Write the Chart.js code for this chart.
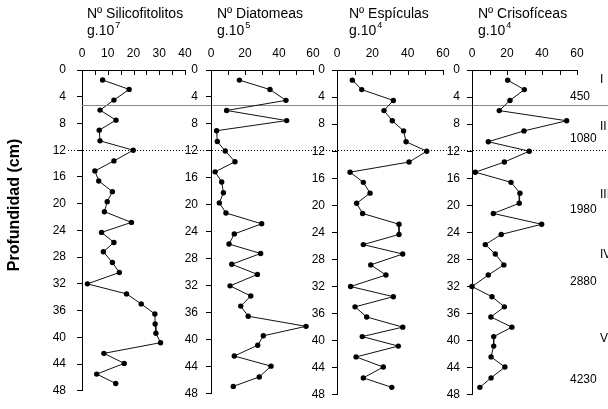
<!DOCTYPE html>
<html>
<head>
<meta charset="utf-8">
<script src="https://cdn.jsdelivr.net/npm/chart.js@4"></script>
<style>
  body { margin: 0; background: #fff; }
  #wrap { position: relative; width: 608px; height: 409px; overflow: hidden; }
  #wrap canvas { position: absolute; left: 0; top: 0; }
</style>
</head>
<body>
<div id="wrap">
  <canvas id="c1" width="608" height="409"></canvas>
  <canvas id="c2" width="608" height="409"></canvas>
  <canvas id="c3" width="608" height="409"></canvas>
  <canvas id="c4" width="608" height="409"></canvas>
</div>
<script>
// sample depths (cm), shared by all four profiles
const depths = [1.5, 2.9, 4.5, 6.0, 7.5, 9.0, 10.6, 12.0, 13.6, 15.1, 16.6, 18.2, 19.7, 21.2, 22.8, 24.3,
                25.8, 27.2, 28.8, 30.3, 32.0, 33.5, 35.0, 36.5, 38.0, 39.4, 40.8, 42.4, 43.9, 45.5, 46.9];

// counts
const silicofitolitos = [8.0, 18.3, 12.4, 7.0, 13.2, 6.7, 7.0, 19.9, 12.4, 5.0, 6.5, 11.8, 9.8, 8.7, 19.2, 7.6,
                         12.4, 8.3, 11.8, 14.5, 2.1, 17.3, 23.0, 28.3, 28.4, 28.7, 30.5, 8.5, 16.4, 5.7, 13.1];
const diatomeas = [16.7, 34.7, 44.1, 9.2, 44.5, 3.3, 3.7, 8.4, 14.1, 2.4, 6.3, 7.3, 4.9, 8.8, 29.8, 13.7,
                   10.6, 29.2, 12.2, 27.3, 11.2, 23.4, 17.5, 21.9, 55.9, 30.8, 27.5, 13.7, 35.3, 28.4, 13.1];
const espiculas = [8.7, 14.0, 31.9, 26.6, 31.3, 37.7, 39.1, 50.8, 40.8, 7.4, 14.9, 18.7, 11.1, 14.5, 35.1, 35.1,
                   14.9, 37.2, 19.1, 27.7, 7.7, 31.9, 10.2, 16.8, 37.2, 14.3, 34.7, 10.8, 26.2, 14.9, 31.0];
const crisoficeas = [20.4, 29.9, 21.7, 15.6, 54.1, 29.7, 9.3, 32.7, 18.5, 1.9, 22.3, 27.4, 27.0, 12.2, 39.8, 16.7,
                     7.6, 13.3, 18.2, 9.3, 0.0, 11.4, 18.5, 10.8, 22.8, 12.4, 12.4, 10.9, 18.8, 10.9, 4.5];

// zones and ages on the right
const zoneNames = ['I', 'II', 'III', 'IV', 'V'];
const zoneNameDepths = [1.5, 8.4, 18.5, 27.3, 39.7];
const zoneAges = ['450', '1080', '1980', '2880', '4230'];
const zoneAgeDepths = [3.9, 10.2, 20.6, 31.3, 45.8];
const solidBoundary = 5.2;
const dottedBoundary = 12;

const FONT = '"Liberation Sans", Arial, Helvetica, sans-serif';

const panels = [
    { id: 'c1', title: 'Nº Silicofitolitos', exp: '7', values: silicofitolitos, xMax: 40, labelStep: 10, minorStep: 5, left: 82, right: 185, titleDx: 5, yPad: 11 },
    { id: 'c2', title: 'Nº Diatomeas', exp: '5', values: diatomeas, xMax: 60, labelStep: 20, minorStep: 10, left: 211, right: 313, titleDx: 6, yPad: 8 },
    { id: 'c3', title: 'Nº Espículas', exp: '4', values: espiculas, xMax: 60, labelStep: 20, minorStep: 10, left: 337, right: 443, titleDx: 12, yPad: 7 },
    { id: 'c4', title: 'Nº Crisofíceas', exp: '4', values: crisoficeas, xMax: 60, labelStep: 20, minorStep: 10, left: 472, right: 577, titleDx: 6, yPad: 7 }
];

// draws inner x ticks, titles and the extra decorations
const panelDecor = {
    id: 'panelDecor',
    afterDraw(chart, args, opts) {
        const { ctx, chartArea, scales } = chart;
        const x = scales.x, y = scales.y;
        ctx.save();
        ctx.strokeStyle = '#000';
        ctx.lineWidth = 1;
        for (let v = 0; v <= opts.xMax; v += opts.minorStep) {
            const px = Math.round(x.getPixelForValue(v)) + 0.5;
            ctx.beginPath();
            ctx.moveTo(px, chartArea.top);
            ctx.lineTo(px, chartArea.top + 5);
            ctx.stroke();
        }

        ctx.fillStyle = '#000';
        ctx.textAlign = 'left';
        ctx.textBaseline = 'alphabetic';
        const tx = chartArea.left + opts.titleDx;
        ctx.font = '14px ' + FONT;
        ctx.fillText(opts.title, tx, 18);
        ctx.fillText('g.10', tx, 35);
        const w = ctx.measureText('g.10').width;
        ctx.font = '9px ' + FONT;
        ctx.fillText(opts.exp, tx + w + 1, 28);

        if (opts.boundaries) {
            const ys = Math.round(y.getPixelForValue(solidBoundary)) + 0.5;
            ctx.strokeStyle = '#888';
            ctx.beginPath();
            ctx.moveTo(chartArea.left, ys);
            ctx.lineTo(chart.width, ys);
            ctx.stroke();
            const yd = Math.round(y.getPixelForValue(dottedBoundary)) + 0.5;
            ctx.strokeStyle = '#000';
            ctx.setLineDash([1, 2]);
            ctx.beginPath();
            ctx.moveTo(chartArea.left - 14, yd);
            ctx.lineTo(chart.width, yd);
            ctx.stroke();
            ctx.setLineDash([]);

            ctx.save();
            ctx.translate(15, 205);
            ctx.rotate(-Math.PI / 2);
            ctx.textAlign = 'center';
            ctx.textBaseline = 'middle';
            ctx.font = 'bold 16px ' + FONT;
            ctx.fillText('Profundidad (cm)', 0, 0);
            ctx.restore();
        }

        if (opts.zones) {
            ctx.font = '12px ' + FONT;
            ctx.textBaseline = 'middle';
            ctx.textAlign = 'left';
            zoneNames.forEach((n, i) => ctx.fillText(n, 600, y.getPixelForValue(zoneNameDepths[i])));
            zoneAges.forEach((a, i) => ctx.fillText(a, 570, y.getPixelForValue(zoneAgeDepths[i])));
        }
        ctx.restore();
    }
};

panels.forEach((p, idx) => {
    const ctx = document.getElementById(p.id).getContext('2d');
    new Chart(ctx, {
        type: 'scatter',
        data: {
            datasets: [{
                data: p.values.map((v, i) => ({ x: v, y: depths[i] })),
                showLine: true,
                borderColor: '#111',
                borderWidth: 1,
                backgroundColor: '#000',
                pointRadius: 2.7,
                pointBorderWidth: 0,
                clip: false
            }]
        },
        options: {
            responsive: false,
            animation: false,
            events: [],
            layout: { padding: { left: p.left - 30, right: 608 - p.right, top: 40, bottom: 9 } },
            plugins: {
                legend: { display: false },
                tooltip: { enabled: false },
                panelDecor: {
                    title: p.title, exp: p.exp, xMax: p.xMax, minorStep: p.minorStep, titleDx: p.titleDx,
                    boundaries: idx === 0, zones: idx === 3
                }
            },
            scales: {
                x: {
                    type: 'linear',
                    position: 'top',
                    min: 0,
                    max: p.xMax,
                    afterFit: s => { s.height = 30; },
                    grid: { display: false, drawTicks: false },
                    border: { display: true, color: '#000', width: 1 },
                    ticks: { stepSize: p.labelStep, padding: 9, color: '#000', font: { family: FONT, size: 12 }, maxRotation: 0 }
                },
                y: {
                    type: 'linear',
                    position: 'left',
                    reverse: true,
                    min: 0,
                    max: 48,
                    afterFit: s => { s.width = 30; },
                    grid: { drawOnChartArea: false, drawTicks: true, tickLength: 5, color: '#000' },
                    border: { display: true, color: '#000', width: 1 },
                    ticks: { stepSize: 4, padding: p.yPad, color: '#000', font: { family: FONT, size: 12 } }
                }
            }
        },
        plugins: [panelDecor]
    });
});
</script>
</body>
</html>
